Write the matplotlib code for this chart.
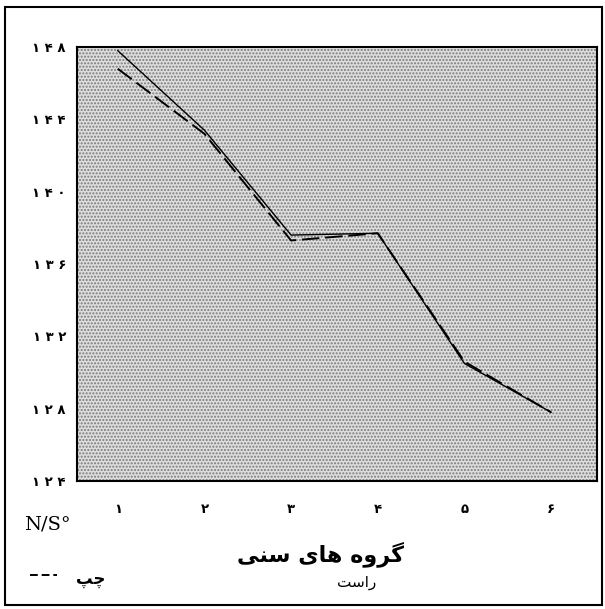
# Age groups vs N/S degree, left and right side (scanned chart recreation)
import matplotlib
matplotlib.use("Agg")
import matplotlib.pyplot as plt
from matplotlib.patches import Rectangle

plt.rcParams['font.family'] = ['DejaVu Sans']

# data
age_groups = [1, 2, 3, 4, 5, 6]
right_side = [147.8, 143.4, 137.6, 137.7, 130.5, 127.8]   # solid line
left_side = [146.8, 143.2, 137.3, 137.7, 130.6, 127.8]    # dashed line

y_ticks = [124, 128, 132, 136, 140, 144, 148]
y_labels = ["۱ ۲ ۴", "۱ ۲ ۸", "۱ ۳ ۲", "۱ ۳ ۶", "۱ ۴ ۰", "۱ ۴ ۴", "۱ ۴ ۸"]
x_labels = ["۱", "۲", "۳", "۴", "۵", "۶"]

# Persian text written with presentation forms in visual (left to right) order
xlabel_text = "\uFBFD\uFEE8\uFEB3 \uFBFC\uFE8E\uFEEB \uFEE9\uFEED\uFEAE\uFB94"   # گروه های سنی
left_text = "\uFB57\uFB7C"                      # چپ
right_text = "\uFE96\uFEB3\uFE8D\uFEAD"         # راست

fig = plt.figure(figsize=(6.05, 6.09), dpi=100)
ax = fig.add_axes([0.1273, 0.2102, 0.8595, 0.7126])

# stippled background
ax.set_facecolor('#dedede')
plt.rcParams['hatch.color'] = '#7a7a7a'
ax.add_patch(Rectangle((0, 0), 1, 1, transform=ax.transAxes, facecolor='none',
                       hatch='.....', linewidth=0, zorder=0))

ax.plot(age_groups, right_side, color='black', linewidth=1.0, zorder=3)
ax.plot(age_groups, left_side, color='black', linewidth=1.4, dashes=(9, 3), zorder=3)

ax.set_xlim(0.53, 6.53)
ax.set_ylim(124, 148)
ax.set_yticks(y_ticks)
ax.set_yticklabels(y_labels, fontsize=9.5, fontweight='bold')
ax.set_xticks(age_groups)
ax.set_xticklabels(x_labels, fontsize=9.5, fontweight='bold')
ax.tick_params(axis='both', length=0)
ax.tick_params(axis='x', pad=16)
ax.tick_params(axis='y', pad=8)
for s in ax.spines.values():
    s.set_linewidth(1.5)

# texts below the plot
fig.text(0.04, 0.138, "N/S°", fontsize=14, family='DejaVu Serif', va='center')
fig.text(0.53, 0.09, xlabel_text, fontsize=16, fontweight='bold', ha='center', va='center')
fig.add_artist(plt.Line2D([0.05, 0.095], [0.056, 0.056], transform=fig.transFigure,
                          color='black', linewidth=1.4, dashes=(4, 2)))
fig.text(0.125, 0.05, left_text, fontsize=12, fontweight='bold', ha='left', va='center')
fig.text(0.59, 0.043, right_text, fontsize=11, ha='center', va='center')

# outer frame
fig.add_artist(Rectangle((0.008, 0.007), 0.987, 0.981, transform=fig.transFigure,
                         fill=False, edgecolor='black', linewidth=1.5))

fig.savefig("out.png", dpi=100)
